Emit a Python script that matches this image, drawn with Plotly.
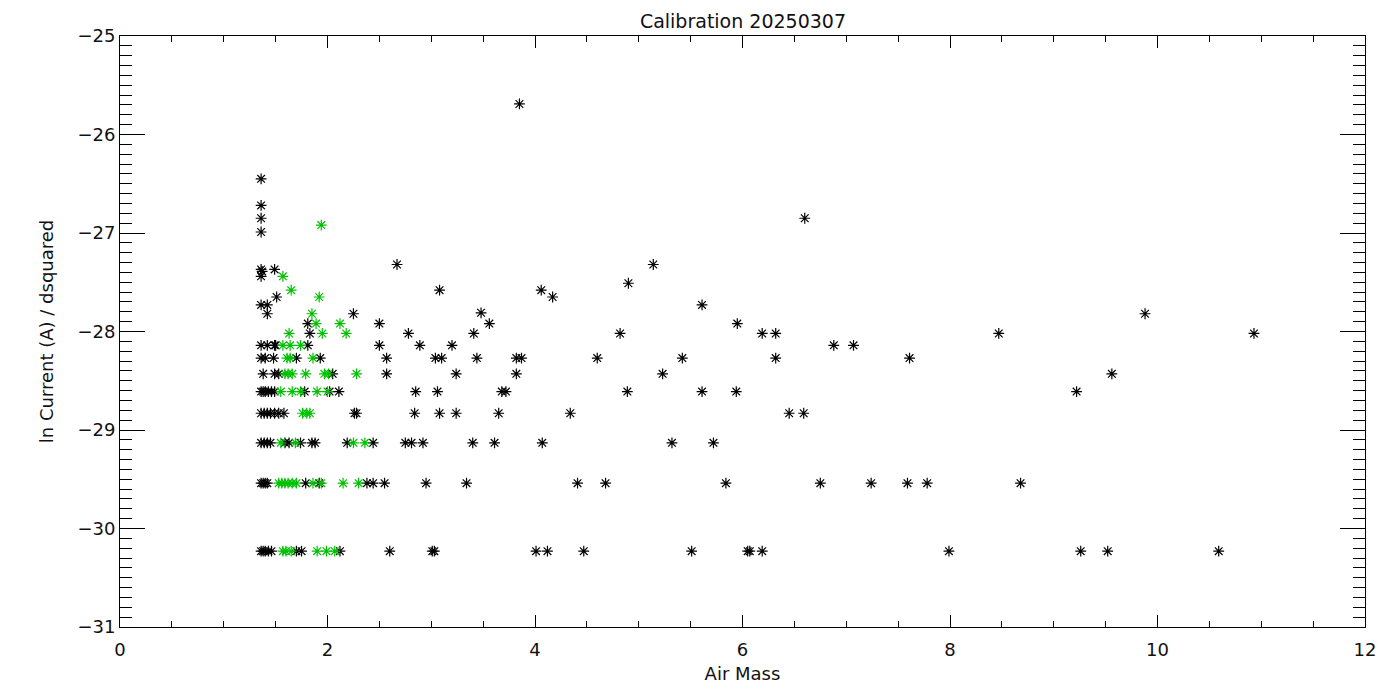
import plotly.graph_objects as go

# Black series (all observations)
black_x = [1.36, 1.36, 1.36, 1.36, 1.36, 1.37, 1.49, 1.36, 2.67, 3.08, 1.51,
           1.36, 1.42, 1.42, 2.25, 1.81, 2.50, 1.83, 2.78, 3.41,
           1.36, 1.42, 1.49, 1.50, 1.81, 2.50, 2.89, 3.20,
           1.36, 1.40, 1.48, 1.70, 1.93, 2.57, 3.04, 3.10, 3.44,
           1.38, 1.49, 1.53, 2.05, 2.57, 3.24,
           1.36, 1.38, 1.40, 1.43, 1.46, 1.49, 1.78, 2.02, 2.11, 2.85, 3.06,
           1.36, 1.39, 1.42, 1.45, 1.49, 1.53, 1.58, 2.26, 2.28, 2.84, 3.08, 3.24,
           1.36, 1.39, 1.42, 1.45, 1.59, 1.63, 1.74, 1.85, 1.88, 2.19, 2.44, 2.75, 2.81, 2.92, 3.40,
           1.36, 1.38, 1.40, 1.42, 1.79, 1.92, 2.38, 2.44, 2.55, 2.95, 3.34,
           1.36, 1.38, 1.40, 1.43, 1.46, 1.70, 1.75, 2.12, 2.60, 3.01, 3.03,
           3.85, 6.60, 5.14, 4.06, 4.17, 4.90, 5.61, 3.48, 9.88, 3.56, 5.95,
           4.82, 6.19, 6.32, 8.47, 10.93, 6.88, 7.07,
           3.82, 3.87, 4.60, 5.42, 6.32, 7.61, 3.82, 5.23, 9.56,
           3.68, 3.72, 4.89, 5.61, 5.94, 9.22, 3.65, 4.34, 6.45, 6.59,
           3.61, 4.07, 5.32, 5.72,
           4.41, 4.68, 5.84, 6.75, 7.24, 7.59, 7.78, 8.68,
           4.01, 4.12, 4.47, 5.51, 6.05, 6.07, 6.19, 7.99, 9.26, 9.52, 10.59]
black_y = [-26.45, -26.72, -26.85, -26.99, -27.37, -27.39, -27.37, -27.44, -27.32, -27.58, -27.65,
           -27.73, -27.73, -27.82, -27.82, -27.92, -27.92, -28.02, -28.02, -28.02,
           -28.14, -28.14, -28.14, -28.14, -28.14, -28.14, -28.14, -28.14,
           -28.27, -28.27, -28.27, -28.27, -28.27, -28.27, -28.27, -28.27, -28.27,
           -28.43, -28.43, -28.43, -28.43, -28.43, -28.43,
           -28.61, -28.61, -28.61, -28.61, -28.61, -28.61, -28.61, -28.61, -28.61, -28.61, -28.61,
           -28.83, -28.83, -28.83, -28.83, -28.83, -28.83, -28.83, -28.83, -28.83, -28.83, -28.83, -28.83,
           -29.13, -29.13, -29.13, -29.13, -29.13, -29.13, -29.13, -29.13, -29.13, -29.13, -29.13, -29.13, -29.13, -29.13, -29.13,
           -29.54, -29.54, -29.54, -29.54, -29.54, -29.54, -29.54, -29.54, -29.54, -29.54, -29.54,
           -30.23, -30.23, -30.23, -30.23, -30.23, -30.23, -30.23, -30.23, -30.23, -30.23, -30.23,
           -25.69, -26.85, -27.32, -27.58, -27.65, -27.51, -27.73, -27.81, -27.82, -27.92, -27.92,
           -28.02, -28.02, -28.02, -28.02, -28.02, -28.14, -28.14,
           -28.27, -28.27, -28.27, -28.27, -28.27, -28.27, -28.43, -28.43, -28.43,
           -28.61, -28.61, -28.61, -28.61, -28.61, -28.61, -28.83, -28.83, -28.83, -28.83,
           -29.13, -29.13, -29.13, -29.13,
           -29.54, -29.54, -29.54, -29.54, -29.54, -29.54, -29.54, -29.54,
           -30.23, -30.23, -30.23, -30.23, -30.23, -30.23, -30.23, -30.23, -30.23, -30.23, -30.23]

# Green series (selected observations)
green_x = [1.94, 1.57, 1.65, 1.92, 1.85, 1.89, 2.12, 1.63, 1.95, 2.18,
           1.57, 1.64, 1.74,
           1.61, 1.64, 1.86,
           1.59, 1.62, 1.66, 1.79, 1.97, 2.01, 2.28,
           1.55, 1.66, 1.74, 1.90, 2.00,
           1.76, 1.80, 1.83,
           1.55, 1.69, 2.25, 2.36,
           1.53, 1.56, 1.59, 1.62, 1.66, 1.70, 1.86, 1.94, 2.15, 2.30,
           1.57, 1.60, 1.65, 1.90, 1.99, 2.07]
green_y = [-26.92, -27.44, -27.58, -27.65, -27.82, -27.92, -27.92, -28.02, -28.02, -28.02,
           -28.14, -28.14, -28.14,
           -28.27, -28.27, -28.27,
           -28.43, -28.43, -28.43, -28.43, -28.43, -28.43, -28.43,
           -28.61, -28.61, -28.61, -28.61, -28.61,
           -28.83, -28.83, -28.83,
           -29.13, -29.13, -29.13, -29.13,
           -29.54, -29.54, -29.54, -29.54, -29.54, -29.54, -29.54, -29.54, -29.54, -29.54,
           -30.23, -30.23, -30.23, -30.23, -30.23, -30.23]

title_text = "Calibration 20250307"
x_title = "Air Mass"
y_title = "ln Current (A) / dsquared"

FONT = "DejaVu Sans"
TXT = "#111111"

fig = go.Figure()
fig.add_trace(go.Scatter(
    x=black_x, y=black_y, mode="markers",
    marker=dict(symbol="asterisk-open", size=9, color="black",
                line=dict(color="black", width=1.2)),
    showlegend=False, hoverinfo="x+y"))
fig.add_trace(go.Scatter(
    x=green_x, y=green_y, mode="markers",
    marker=dict(symbol="asterisk-open", size=9, color="#00c000",
                line=dict(color="#00c000", width=1.2)),
    showlegend=False, hoverinfo="x+y"))

fig.update_layout(
    width=1392, height=692,
    paper_bgcolor="white", plot_bgcolor="white",
    margin=dict(l=112, r=35, t=28, b=73),
    font=dict(family=FONT, color=TXT, size=18),
    title=dict(text=title_text, x=0.528, xanchor="center", y=1 - 13 / 692, yanchor="middle",
               yref="container",
               font=dict(family=FONT, size=19, color=TXT)),
)
fig.update_xaxes(
    range=[0, 12], dtick=2, tick0=0, showgrid=False, zeroline=False,
    showline=True, linecolor="black", linewidth=1, mirror="ticks",
    ticks="inside", ticklen=12, tickcolor="black", tickwidth=1,
    minor=dict(dtick=0.5, ticks="inside", ticklen=6, tickcolor="black", tickwidth=1, showgrid=False),
    title=dict(text=x_title, standoff=8, font=dict(size=18)),
    tickfont=dict(size=18), ticklabelstandoff=6, automargin=False,
)
fig.update_yaxes(
    range=[-31, -25], dtick=1, tick0=-31, showgrid=False, zeroline=False,
    showline=True, linecolor="black", linewidth=1, mirror="ticks",
    ticks="inside", ticklen=25, tickcolor="black", tickwidth=1,
    minor=dict(dtick=0.1, ticks="inside", ticklen=12, tickcolor="black", tickwidth=1, showgrid=False),
    title=dict(text=y_title, standoff=19, font=dict(size=18)),
    tickfont=dict(size=18), automargin=False,
)

fig.write_html("out.html")
